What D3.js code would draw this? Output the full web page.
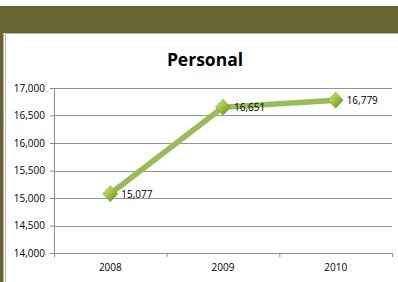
<!DOCTYPE html>
<html>
<head>
<meta charset="utf-8">
<script src="https://cdn.jsdelivr.net/npm/d3@7"></script>
<style>
  body { margin: 0; background: #fff; }
  text { font-family: "Open Sans", "Noto Sans", sans-serif; fill: #000; }
</style>
</head>
<body>
<div id="chart"></div>
<script>
'use strict'

var years = ['2008', '2009', '2010']
var values = [15077, 16651, 16779]
var yTicks = [14000, 14500, 15000, 15500, 16000, 16500, 17000]
var title = 'Personal'

var W = 398, H = 282
var margins = { top: 88, left: 54, right: 6, bottom: 29 }
var width = W - margins.left - margins.right
var height = H - margins.top - margins.bottom

var svg = d3.select('#chart').append('svg')
    .attr('width', W).attr('height', H)

// header band and frame
svg.append('rect').attr('x', 0).attr('y', 6).attr('width', W).attr('height', 27).style('fill', '#686432')
svg.append('rect').attr('x', 0).attr('y', 33).attr('width', 3.5).attr('height', H - 33).style('fill', '#686432')
svg.append('line').attr('x1', 5.5).attr('x2', 5.5).attr('y1', 33).attr('y2', H).style('stroke', '#b4b4b4')
svg.append('line').attr('x1', 5).attr('x2', W).attr('y1', 33.5).attr('y2', 33.5).style('stroke', '#b4b4b4')

svg.append('text')
    .attr('x', 205).attr('y', 66)
    .style('text-anchor', 'middle')
    .style('font-weight', 'bold')
    .style('font-size', '17.5px')
    .text(title)

var defs = svg.append('defs')
var grad = defs.append('linearGradient').attr('id', 'dia')
    .attr('x1', '0').attr('y1', '0').attr('x2', '1').attr('y2', '1')
grad.append('stop').attr('offset', '0%').style('stop-color', '#d3ea8c')
grad.append('stop').attr('offset', '50%').style('stop-color', '#9cc23c')
grad.append('stop').attr('offset', '100%').style('stop-color', '#62801f')

var chart = svg.append('g')
    .attr('transform', 'translate(' + margins.left + ',' + margins.top + ')')

var x = d3.scaleBand().domain(years).range([0, width])
var y = d3.scaleLinear().domain([14000, 17000]).range([height, 0])

// gridlines
chart.selectAll('.grid').data(yTicks.slice(1))
    .enter().append('line')
    .attr('class', 'grid')
    .attr('x1', 0).attr('x2', width)
    .attr('y1', d => Math.round(y(d)) + 0.5).attr('y2', d => Math.round(y(d)) + 0.5)
    .style('stroke', '#969696')

var yAxis = chart.append('g')
    .call(d3.axisLeft(y).tickValues(yTicks).tickSize(4).tickPadding(5).tickFormat(d3.format(',')))
var xAxis = chart.append('g')
    .attr('transform', 'translate(0,' + height + ')')
    .call(d3.axisBottom(x).tickSize(4).tickPadding(7))

// band boundary ticks instead of centred ones
xAxis.selectAll('.tick line').remove()
xAxis.selectAll('.bt').data([0].concat(years.map(d => x(d) + x.bandwidth())))
    .enter().append('line')
    .attr('x1', d => d + 0.5).attr('x2', d => d + 0.5)
    .attr('y1', 0).attr('y2', 4)
    .style('stroke', '#8c8c8c')

chart.selectAll('.domain').style('stroke', '#8c8c8c')
yAxis.selectAll('.tick line').style('stroke', '#8c8c8c')
chart.selectAll('.tick text').style('font-size', '10px').style('font-family', '"Open Sans", sans-serif')
xAxis.selectAll('.domain').attr('d', 'M0.5,0.5H' + width)

var pts = years.map((d, i) => ({ year: d, v: values[i] }))
var line = d3.line().x(d => x(d.year) + x.bandwidth() / 2).y(d => y(d.v))

chart.append('path').datum(pts)
    .attr('d', line)
    .style('fill', 'none')
    .style('stroke', '#9bbb59')
    .style('stroke-width', 5.5)
    .style('stroke-linejoin', 'round')

chart.selectAll('.pt').data(pts)
    .enter().append('path')
    .attr('class', 'pt')
    .attr('transform', d => 'translate(' + (x(d.year) + x.bandwidth() / 2) + ',' + y(d.v) + ')')
    .attr('d', 'M0,-8L7.5,0L0,8L-7.5,0Z')
    .style('fill', 'url(#dia)')
    .style('stroke', '#7a9a30')
    .style('stroke-width', 0.6)

chart.selectAll('.lbl').data(pts)
    .enter().append('text')
    .attr('x', d => x(d.year) + x.bandwidth() / 2 + 11)
    .attr('y', d => y(d.v) + 4)
    .style('font-size', '10px')
    .text(d => d3.format(',')(d.v))
</script>
</body>
</html>
